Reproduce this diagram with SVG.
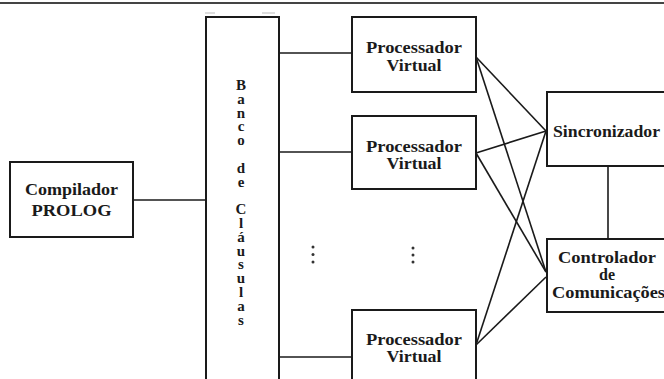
<svg xmlns="http://www.w3.org/2000/svg" width="664" height="379" viewBox="0 0 664 379">
<style>
.box{fill:#fff;stroke:#1a1a1a;stroke-width:2}
.ln{stroke:#1a1a1a;stroke-width:1.6;fill:none}
.t{font-family:"Liberation Serif","Times New Roman",serif;font-weight:bold;font-size:16px;fill:#1a1a1a;text-anchor:middle}
.v{font-family:"Liberation Serif","Times New Roman",serif;font-weight:bold;font-size:15px;fill:#1a1a1a;writing-mode:vertical-rl;text-orientation:upright;letter-spacing:-2.2px}
.dot{fill:#333}
</style>
<rect width="664" height="379" fill="#fff"/>
<line x1="0" y1="3" x2="664" y2="3" stroke="#444" stroke-width="2"/>
<line x1="205" y1="13" x2="215" y2="13" stroke="#bbb" stroke-width="1"/>
<line x1="262" y1="13" x2="275" y2="13" stroke="#bbb" stroke-width="1"/>
<g id="connectors">
<line class="ln" x1="133" y1="200" x2="206" y2="200"/>
<line class="ln" x1="279" y1="53" x2="352" y2="53"/>
<line class="ln" x1="279" y1="152" x2="352" y2="152"/>
<line class="ln" x1="279" y1="357" x2="352" y2="357"/>
<line class="ln" x1="476" y1="57" x2="546" y2="131"/>
<line class="ln" x1="476" y1="57" x2="546" y2="272"/>
<line class="ln" x1="476" y1="153" x2="546" y2="131"/>
<line class="ln" x1="476" y1="153" x2="546" y2="272"/>
<line class="ln" x1="476" y1="345" x2="546" y2="131"/>
<line class="ln" x1="476" y1="345" x2="546" y2="277"/>
<line class="ln" x1="608" y1="166" x2="608" y2="239"/>
</g>
<g id="compilador">
<rect class="box" x="10" y="162" width="123" height="75"/>
<text class="t" x="71.5" y="195" textLength="93" lengthAdjust="spacingAndGlyphs">Compilador</text>
<text class="t" x="71.5" y="216" textLength="80" lengthAdjust="spacingAndGlyphs">PROLOG</text>
</g>
<g id="banco">
<path class="box" d="M206,382 V17 H279 V382"/>
<text class="v" x="241" y="77">Banco de Cláusulas</text>
</g>
<g id="proc1">
<rect class="box" x="352" y="17" width="124" height="75"/>
<text class="t" x="414" y="53" textLength="96" lengthAdjust="spacingAndGlyphs">Processador</text>
<text class="t" x="414" y="71" textLength="55" lengthAdjust="spacingAndGlyphs">Virtual</text>
</g>
<g id="proc2">
<rect class="box" x="352" y="116" width="124" height="73"/>
<text class="t" x="414" y="152" textLength="96" lengthAdjust="spacingAndGlyphs">Processador</text>
<text class="t" x="414" y="169" textLength="55" lengthAdjust="spacingAndGlyphs">Virtual</text>
</g>
<g id="proc3">
<path class="box" d="M352,382 V310 H476 V382"/>
<text class="t" x="414" y="345" textLength="96" lengthAdjust="spacingAndGlyphs">Processador</text>
<text class="t" x="414" y="362" textLength="55" lengthAdjust="spacingAndGlyphs">Virtual</text>
</g>
<g id="dots">
<circle class="dot" cx="313" cy="247" r="1.5"/>
<circle class="dot" cx="313" cy="254.5" r="1.5"/>
<circle class="dot" cx="313" cy="262" r="1.5"/>
<circle class="dot" cx="413" cy="248" r="1.5"/>
<circle class="dot" cx="413" cy="255" r="1.5"/>
<circle class="dot" cx="413" cy="262" r="1.5"/>
</g>
<g id="sincronizador">
<path class="box" d="M668,92 H547 V166 H668"/>
<text class="t" x="553" y="137" style="text-anchor:start" textLength="107" lengthAdjust="spacingAndGlyphs">Sincronizador</text>
</g>
<g id="controlador">
<path class="box" d="M668,239 H547 V312 H668"/>
<text class="t" x="607" y="263" textLength="98" lengthAdjust="spacingAndGlyphs">Controlador</text>
<text class="t" x="607" y="280">de</text>
<text class="t" x="552" y="298" style="text-anchor:start" textLength="113" lengthAdjust="spacingAndGlyphs">Comunicações</text>
</g>
</svg>
